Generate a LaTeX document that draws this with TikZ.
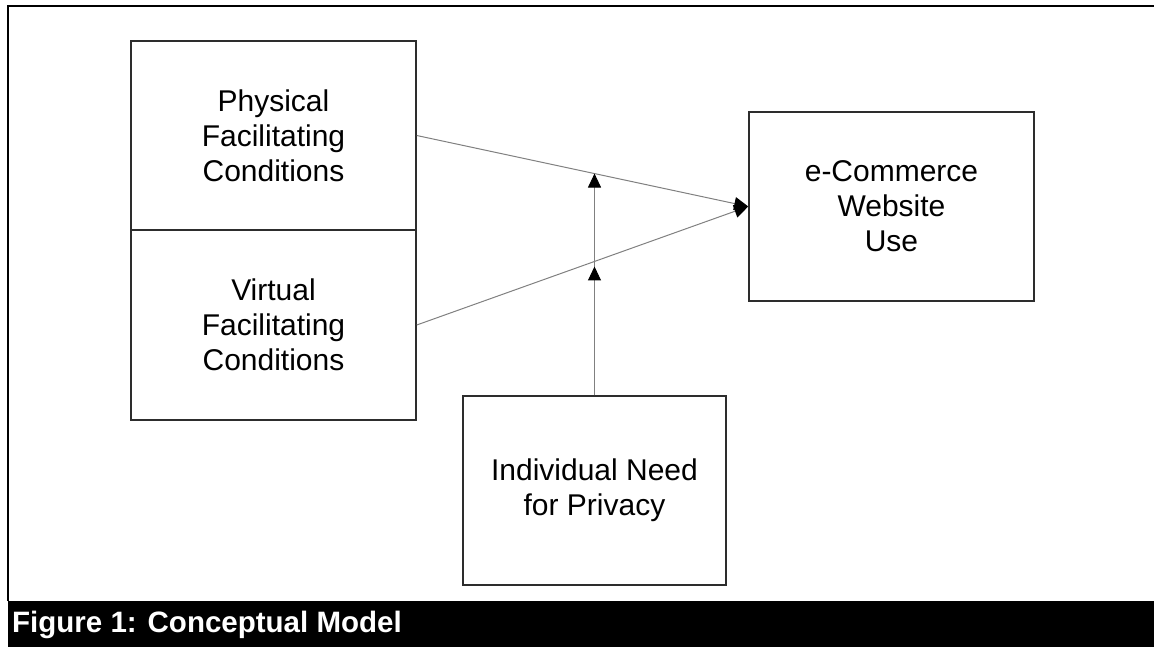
\documentclass[tikz,border=0pt]{standalone}
\usepackage{fontspec}
\setmainfont{Liberation Sans}
\usetikzlibrary{arrows.meta,calc}
\definecolor{linegray}{RGB}{128,128,128}
\definecolor{boxgray}{RGB}{45,45,45}
\tikzset{
  block/.style={draw=boxgray,line width=1.5pt,fill=white,align=center,
    inner sep=0pt,minimum height=189pt,
    font=\fontsize{30}{35}\selectfont},
  link/.style={draw=linegray,line width=1pt,
    -{Triangle[length=14pt,width=13pt,black]}},
}
\begin{document}
\begin{tikzpicture}[x=1pt,y=-1pt]
\useasboundingbox (0,0) rectangle (1154,647);
% frame and caption bar
\draw[line width=2.5pt] (8,601) -- (8,6) -- (1154,6);
\fill (8,601) rectangle (1154,647);
\node[anchor=base west,inner sep=0pt,text=white,
  font=\fontsize{29.5}{34}\selectfont\bfseries] (cap) at (12,632)
  {Figure 1: Conceptual Model};
% constructs
\node[block,minimum width=285pt] (phys) at (273.5,135.5)
  {Physical\\Facilitating\\Conditions};
\node[block,minimum width=285pt,minimum height=190pt] (virt) at (273.5,325)
  {Virtual\\Facilitating\\Conditions};
\node[block,minimum width=285pt] (ecom) at (891.5,206.5)
  {e-Commerce\\Website\\Use};
\node[block,minimum width=263pt] (priv) at (594.5,490.5)
  {Individual Need\\for Privacy};
% paths
\coordinate (upX) at ($(phys.east)!0.536!(ecom.west)$);
\coordinate (lowX) at ($(virt.east)!0.536!(ecom.west)$);
\draw[link] (phys.east) -- (ecom.west);
\draw[link] (virt.east) -- (ecom.west);
\draw[link] (priv.north) -- (priv.north |- upX);
\draw[link,shorten >=5pt] (priv.north) -- (priv.north |- lowX);
\end{tikzpicture}
\end{document}
